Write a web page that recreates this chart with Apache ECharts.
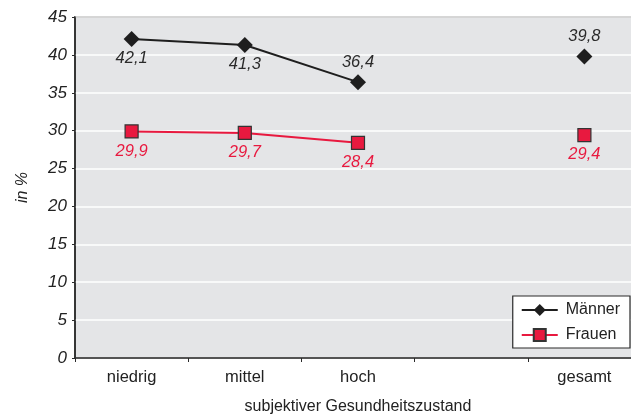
<!DOCTYPE html>
<html>
<head>
<meta charset="utf-8">
<script src="https://cdn.jsdelivr.net/npm/echarts@6/dist/echarts.min.js"></script>
<style>
  html, body { margin: 0; padding: 0; background: #fff; }
  #chart { width: 631px; height: 416px; }
</style>
</head>
<body>
<div id="chart"></div>
<script>
// Share (in %) by self-rated health status, men vs. women
const categories = ['niedrig', 'mittel', 'hoch', '', 'gesamt'];
const maenner = [42.1, 41.3, 36.4, null, 39.8];
const frauen = [29.9, 29.7, 28.4, null, 29.4];
const maennerLabelPos = ['bottom', 'bottom', 'top', 'top', 'top'];
const yTicks = [0, 5, 10, 15, 20, 25, 30, 35, 40, 45];

const FONT = '"Liberation Sans", Arial, sans-serif';
const RED = '#e8193f';
const DARK = '#1e1e1e';

const fmt = v => v.toFixed(1).replace('.', ',');

function seriesData(values, positions, color, dist) {
  return values.map((v, i) => v == null ? null : ({
    value: v,
    label: {
      show: true,
      position: positions[i],
      distance: dist,
      color: color,
      fontFamily: FONT,
      fontStyle: 'italic',
      fontSize: 16.5,
      formatter: p => fmt(p.value)
    }
  }));
}

const chart = echarts.init(document.getElementById('chart'), null, { renderer: 'canvas' });
chart.setOption({
  animation: false,
  grid: {
    left: 75, top: 17, width: 566, bottom: 58,
    outerBoundsMode: 'none',
    containLabel: false,
    show: true, backgroundColor: '#e4e5e7',
    borderColor: '#2a2a2a', borderWidth: 1.5
  },
  legend: {
    right: 1, top: 296,
    orient: 'vertical',
    backgroundColor: '#fff',
    borderColor: '#2a2a2a', borderWidth: 1.2, borderRadius: 0,
    padding: [6, 10, 5, 8],
    itemGap: 9,
    itemWidth: 36, itemHeight: 15,
    textStyle: { fontFamily: FONT, fontSize: 16, color: '#222', padding: [0, 0, 0, 3] },
    data: ['Männer', 'Frauen']
  },
  xAxis: {
    type: 'category',
    data: categories,
    boundaryGap: true,
    name: 'subjektiver Gesundheitszustand',
    nameLocation: 'middle',
    nameGap: 41,
    nameTextStyle: { fontFamily: FONT, fontSize: 16, color: '#222' },
    axisLine: { lineStyle: { color: '#2a2a2a', width: 1.5 } },
    axisTick: { show: true, length: 4, lineStyle: { color: '#2a2a2a' } },
    axisLabel: { fontFamily: FONT, fontSize: 16.5, color: '#222', margin: 11 }
  },
  yAxis: {
    type: 'value',
    min: 0, max: 45, interval: 5,
    name: 'in %',
    nameLocation: 'middle',
    nameGap: 44,
    nameTextStyle: { fontFamily: FONT, fontSize: 16, fontStyle: 'italic', color: '#222' },
    axisLine: { show: true, lineStyle: { color: '#2a2a2a', width: 1.5 } },
    axisTick: { show: true, length: 3, lineStyle: { color: '#2a2a2a' } },
    axisLabel: {
      fontFamily: FONT, fontSize: 17, fontStyle: 'italic', color: '#222', margin: 8,
      formatter: v => yTicks.includes(v) ? String(v) : ''
    },
    splitLine: { show: true, lineStyle: { color: '#ffffff', width: 1.5 } }
  },
  series: [
    {
      name: 'Männer',
      type: 'line',
      data: seriesData(maenner, maennerLabelPos, '#2a2a2a', 3),
      symbol: 'diamond',
      symbolSize: 16,
      itemStyle: { color: DARK },
      lineStyle: { color: DARK, width: 2 },
      z: 3
    },
    {
      name: 'Frauen',
      type: 'line',
      data: seriesData(frauen, frauen.map(() => 'bottom'), RED, 4),
      symbol: 'rect',
      symbolSize: 13,
      itemStyle: { color: RED, borderColor: '#333', borderWidth: 1.2 },
      lineStyle: { color: RED, width: 2 },
      z: 2
    }
  ]
});
</script>
</body>
</html>
